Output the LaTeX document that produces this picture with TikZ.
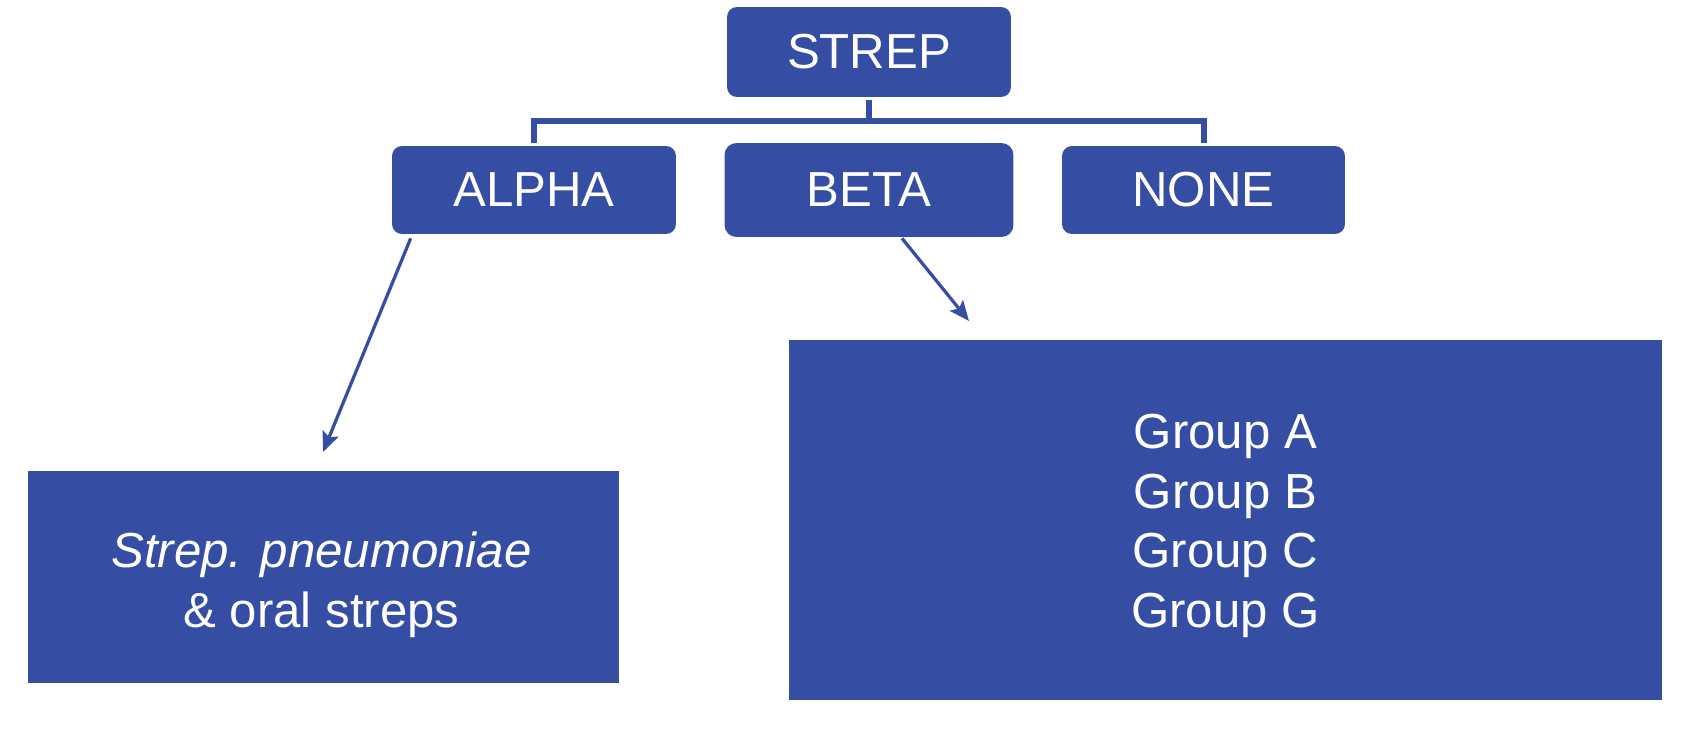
\documentclass[tikz,border=0pt]{standalone}
\usepackage{fontspec}
\setmainfont{Liberation Sans}
\usepackage{tikz}
\usetikzlibrary{arrows.meta, positioning, calc}
\definecolor{strepblue}{RGB}{53,78,163}
\tikzset{>={Stealth[length=0.4cm,width=0.34cm,inset=0.08cm]}}

\begin{document}
\begin{tikzpicture}[x=0.02cm, y=-0.02cm,
    words/.style={text=white, inner sep=0pt, align=center,
        font=\fontsize{28}{34}\selectfont},
    box/.style={words, fill=strepblue},
    tab/.style={box, rounded corners=0.2cm},
    elbow/.style={draw=strepblue, line width=0.12cm},
    link/.style={draw=strepblue, line width=0.065cm, ->}]
            \useasboundingbox (0,0) rectangle (1698,736);

            \node[tab, minimum width=5.68cm, minimum height=1.8cm] (strep) at (869,52) {STREP};
            \node[tab, minimum width=5.68cm, minimum height=1.76cm] (alpha) at (534,190) {ALPHA};
            \node[tab, minimum width=5.78cm, minimum height=1.88cm, rounded corners=0.24cm] (beta) at (869,190) {BETA};
            \node[tab, minimum width=5.66cm, minimum height=1.76cm] (none) at (1203.5,190) {NONE};

            \node[box, minimum width=11.82cm, minimum height=4.24cm] (alphabox) at (323.5,577) {};
            \node[words] (alphalist) at ($(alphabox)+(-2,8)$)
                {\itshape Strep. pneumoniae\\ \& oral streps};
            \node[box, minimum width=17.46cm, minimum height=7.2cm] (betabox) at (1225.5,520) {};
            \node[words] (betalist) at ($(betabox)+(0,6)$)
                {Group A\\Group B\\Group C\\Group G};

            % elbow connector from STREP
            \coordinate (hub) at (869,121);
            \draw[elbow, shorten <=0.06cm] (strep.south) -- (hub);
            \draw[elbow, shorten <=0.06cm, shorten >=0.06cm] (alpha.north) |- (hub) -| (none.north);

            % arrows to the lists
            \coordinate (alphatip) at (323,452);
            \coordinate (betatip) at (969,321);
            \draw[link] ($(alpha.south west)+(19,4)$) -- (alphatip);
            \draw[link] ($(beta.south)+(33,1)$) -- (betatip);
\end{tikzpicture}
\end{document}
